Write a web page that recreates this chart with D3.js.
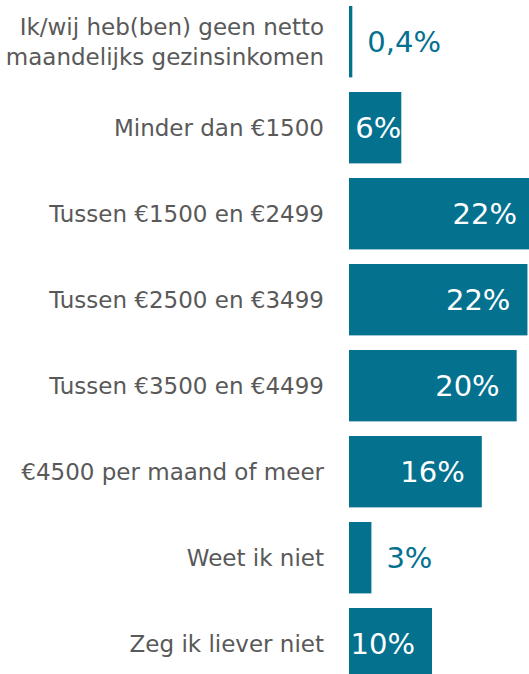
<!DOCTYPE html>
<html>
<head>
<meta charset="utf-8">
<script src="https://cdn.jsdelivr.net/npm/d3@7"></script>
<style>
  html, body { margin: 0; padding: 0; background: #fff; overflow: hidden; }
  .cat { font-family: "DejaVu Sans", sans-serif; font-size: 23px; fill: #595959; }
  .val { font-family: "DejaVu Sans", sans-serif; font-size: 29px; }
</style>
</head>
<body>
<div id="chartDiv"></div>
<script>
// answers, top to bottom (first one is wrapped over two lines)
const categories = [
  ["Ik/wij heb(ben) geen netto", "maandelijks gezinsinkomen"],
  ["Minder dan €1500"],
  ["Tussen €1500 en €2499"],
  ["Tussen €2500 en €3499"],
  ["Tussen €3500 en €4499"],
  ["€4500 per maand of meer"],
  ["Weet ik niet"],
  ["Zeg ik liever niet"]
];
// share of respondents, %
const values = [0.4, 6.3, 22.3, 21.5, 20.2, 16.0, 2.7, 10.0];
const valueLabels = ["0,4%", "6%", "22%", "22%", "20%", "16%", "3%", "10%"];

const width = 529, height = 674;
const barColor = "#04718f";

const svgObj = d3.select("#chartDiv").append("svg")
    .attr("width", width)
    .attr("height", height);

const x = d3.scaleLinear().domain([0, 100]).range([349, 349 + 830]);
const y = d3.scaleBand()
    .domain(d3.range(categories.length))
    .range([-1.3, 686.7])
    .paddingInner(0.17)
    .paddingOuter(0.085);

const rows = svgObj.selectAll("g.row")
    .data(values)
    .enter().append("g")
    .attr("class", "row");

rows.append("rect")
    .attr("x", x(0))
    .attr("y", (d, i) => y(i))
    .attr("width", d => x(d) - x(0))
    .attr("height", y.bandwidth())
    .attr("fill", barColor);

// category labels, right aligned left of the bars
rows.append("text")
    .attr("class", "cat")
    .attr("text-anchor", "end")
    .each(function(d, i){
        const lines = categories[i];
        const cy = y(i) + y.bandwidth() / 2;
        const lh = 30;
        d3.select(this).selectAll("tspan")
            .data(lines)
            .enter().append("tspan")
            .attr("x", 324)
            .attr("y", (t, j) => cy + (j - (lines.length - 1) / 2) * lh)
            .attr("dy", "0.35em")
            .text(t => t);
    });

// value labels: inside the bar (white) or just outside when the bar is too thin
rows.append("text")
    .attr("class", "val")
    .attr("dy", "0.35em")
    .attr("y", (d, i) => y(i) + y.bandwidth() / 2)
    .text((d, i) => valueLabels[i])
    .each(function(d){
        const el = d3.select(this);
        const w = this.getComputedTextLength();
        const end = x(d);
        if (end - x(0) < 30) {
            el.attr("x", end + 15).attr("text-anchor", "start").attr("fill", barColor);
        } else {
            let pos = end - 17;
            if (pos - w < x(0)) pos = end;
            el.attr("x", pos).attr("text-anchor", "end").attr("fill", "#fff");
        }
    });
</script>
</body>
</html>
